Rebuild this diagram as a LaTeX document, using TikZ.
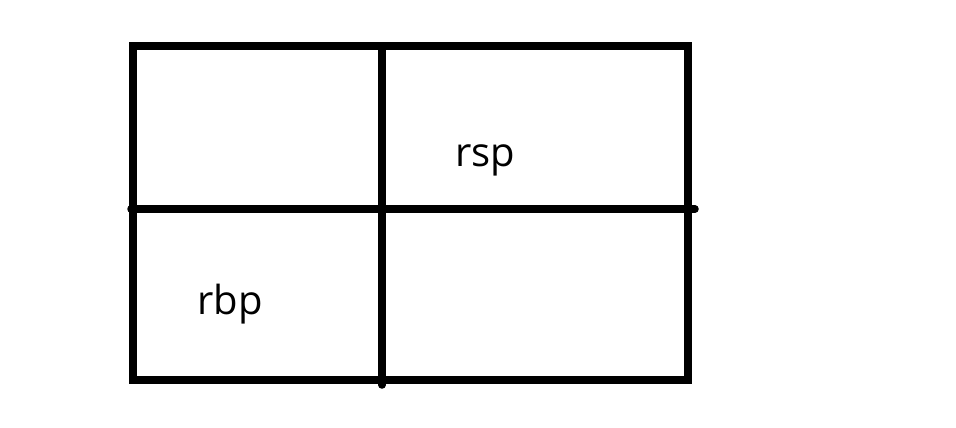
\documentclass[tikz,border=0pt]{standalone}
\usepackage{fontspec}
\setmainfont{Open Sans}
\begin{document}
\begin{tikzpicture}[x=1pt,y=-1pt,line width=7.5pt,
  lbl/.style={font=\fontsize{40}{48}\selectfont}]
\useasboundingbox (0,0) rectangle (956,428);
\draw (133,46) rectangle (688,380);
\draw[line cap=round] (382,46) -- (382,385);
\draw[line cap=round] (131,209) -- (695,209);
\node[lbl] (rsp) at (485,160) {rsp};
\node[lbl] (rbp) at (230,304) {rbp};
\end{tikzpicture}
\end{document}
